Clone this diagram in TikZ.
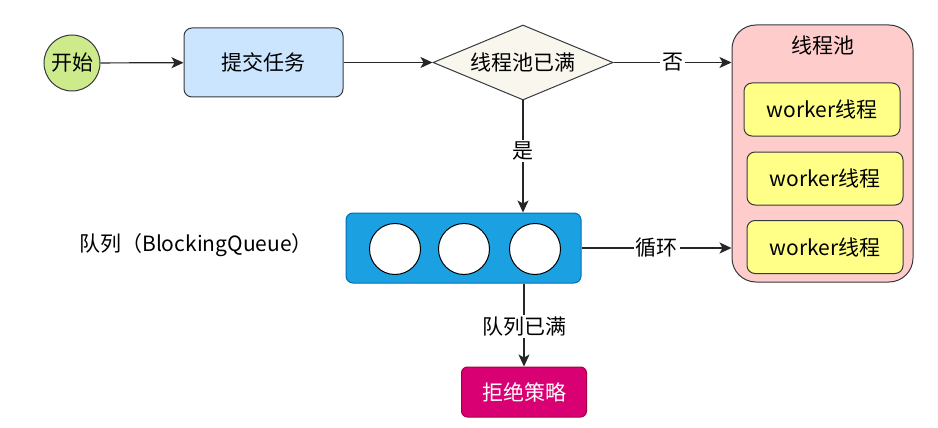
\documentclass[tikz,border=0pt]{standalone}
\usepackage{fontspec}
\setmainfont{Noto Sans CJK SC}
\usetikzlibrary{arrows.meta,shapes.geometric}
\definecolor{edgegray}{HTML}{36393D}
\definecolor{startgreen}{HTML}{CDEB8B}
\definecolor{taskblue}{HTML}{CCE5FF}
\definecolor{condbeige}{HTML}{F9F7ED}
\definecolor{poolpink}{HTML}{FFCCCC}
\definecolor{workeryellow}{HTML}{FFFF88}
\definecolor{queueblue}{HTML}{1BA1E2}
\definecolor{queueedge}{HTML}{006EAF}
\definecolor{rejectred}{HTML}{D80073}
\definecolor{rejectedge}{HTML}{A50040}

\begin{document}
\begin{tikzpicture}[x=1pt,y=1pt,font=\fontsize{21}{25}\selectfont,
 >={Stealth[length=12pt,width=11pt,inset=3pt]},
 startnode/.style={circle,draw=edgegray,fill=startgreen,minimum size=56pt,inner sep=0pt,line width=1pt},
 taskbox/.style={draw=edgegray,rounded corners=8pt,line width=1pt,inner sep=0pt},
 cond/.style={diamond,aspect=2.4,draw=edgegray,fill=condbeige,minimum width=180pt,minimum height=75pt,inner sep=0pt,line width=1pt},
 worker/.style={taskbox,fill=workeryellow,minimum width=156pt,minimum height=53pt},
 slot/.style={circle,draw=black,fill=white,minimum size=51pt,inner sep=0pt,line width=1pt},
 arr/.style={->,line width=1.2pt,draw=black!85},
 lbl/.style={fill=white,inner sep=2pt}]
\useasboundingbox (0,0) rectangle (938,-428);
\node[startnode] (start) at (72,-63) {开始};
\node[taskbox,fill=taskblue,minimum width=159pt,minimum height=69pt] (submit) at (263.5,-62.5) {提交任务};
\node[cond] (full) at (523,-62.5) {线程池已满};
\node[taskbox,fill=poolpink,rounded corners=24pt,minimum width=181pt,minimum height=257pt] (pool) at (822.5,-153.5) {};
\node (poolname) at (822.5,-45) {线程池};
\node[worker] (w1) at (822,-109.5) {worker线程};
\node[worker] (w2) at (825,-178.5) {worker线程};
\node[worker] (w3) at (825,-247) {worker线程};
\node[taskbox,draw=queueedge,fill=queueblue,rounded corners=7pt,minimum width=235pt,minimum height=70pt] (queue) at (463.5,-248) {};
\node[slot] (q1) at (395,-249) {};
\node[slot] (q2) at (464,-249) {};
\node[slot] (q3) at (535,-249) {};
\node (qname) at (196,-245) {队列（BlockingQueue）};
\node[taskbox,draw=rejectedge,fill=rejectred,text=white,rounded corners=6pt,minimum width=125pt,minimum height=50pt] (reject) at (524,-392) {拒绝策略};
\draw[arr] (start) -- (submit);
\draw[arr] (submit) -- (full);
\draw[arr] (full.east) -- node[lbl] {否} (full.east -| pool.west);
\draw[arr] (full.south) -- node[lbl,pos=0.45] {是} (full.south |- queue.north);
\draw[arr] (queue.east) -- node[lbl,pos=0.5] {循环} (queue.east -| pool.west);
\draw[arr] (reject.north |- queue.south) -- node[lbl,pos=0.52] {队列已满} (reject.north);
\end{tikzpicture}
\end{document}
